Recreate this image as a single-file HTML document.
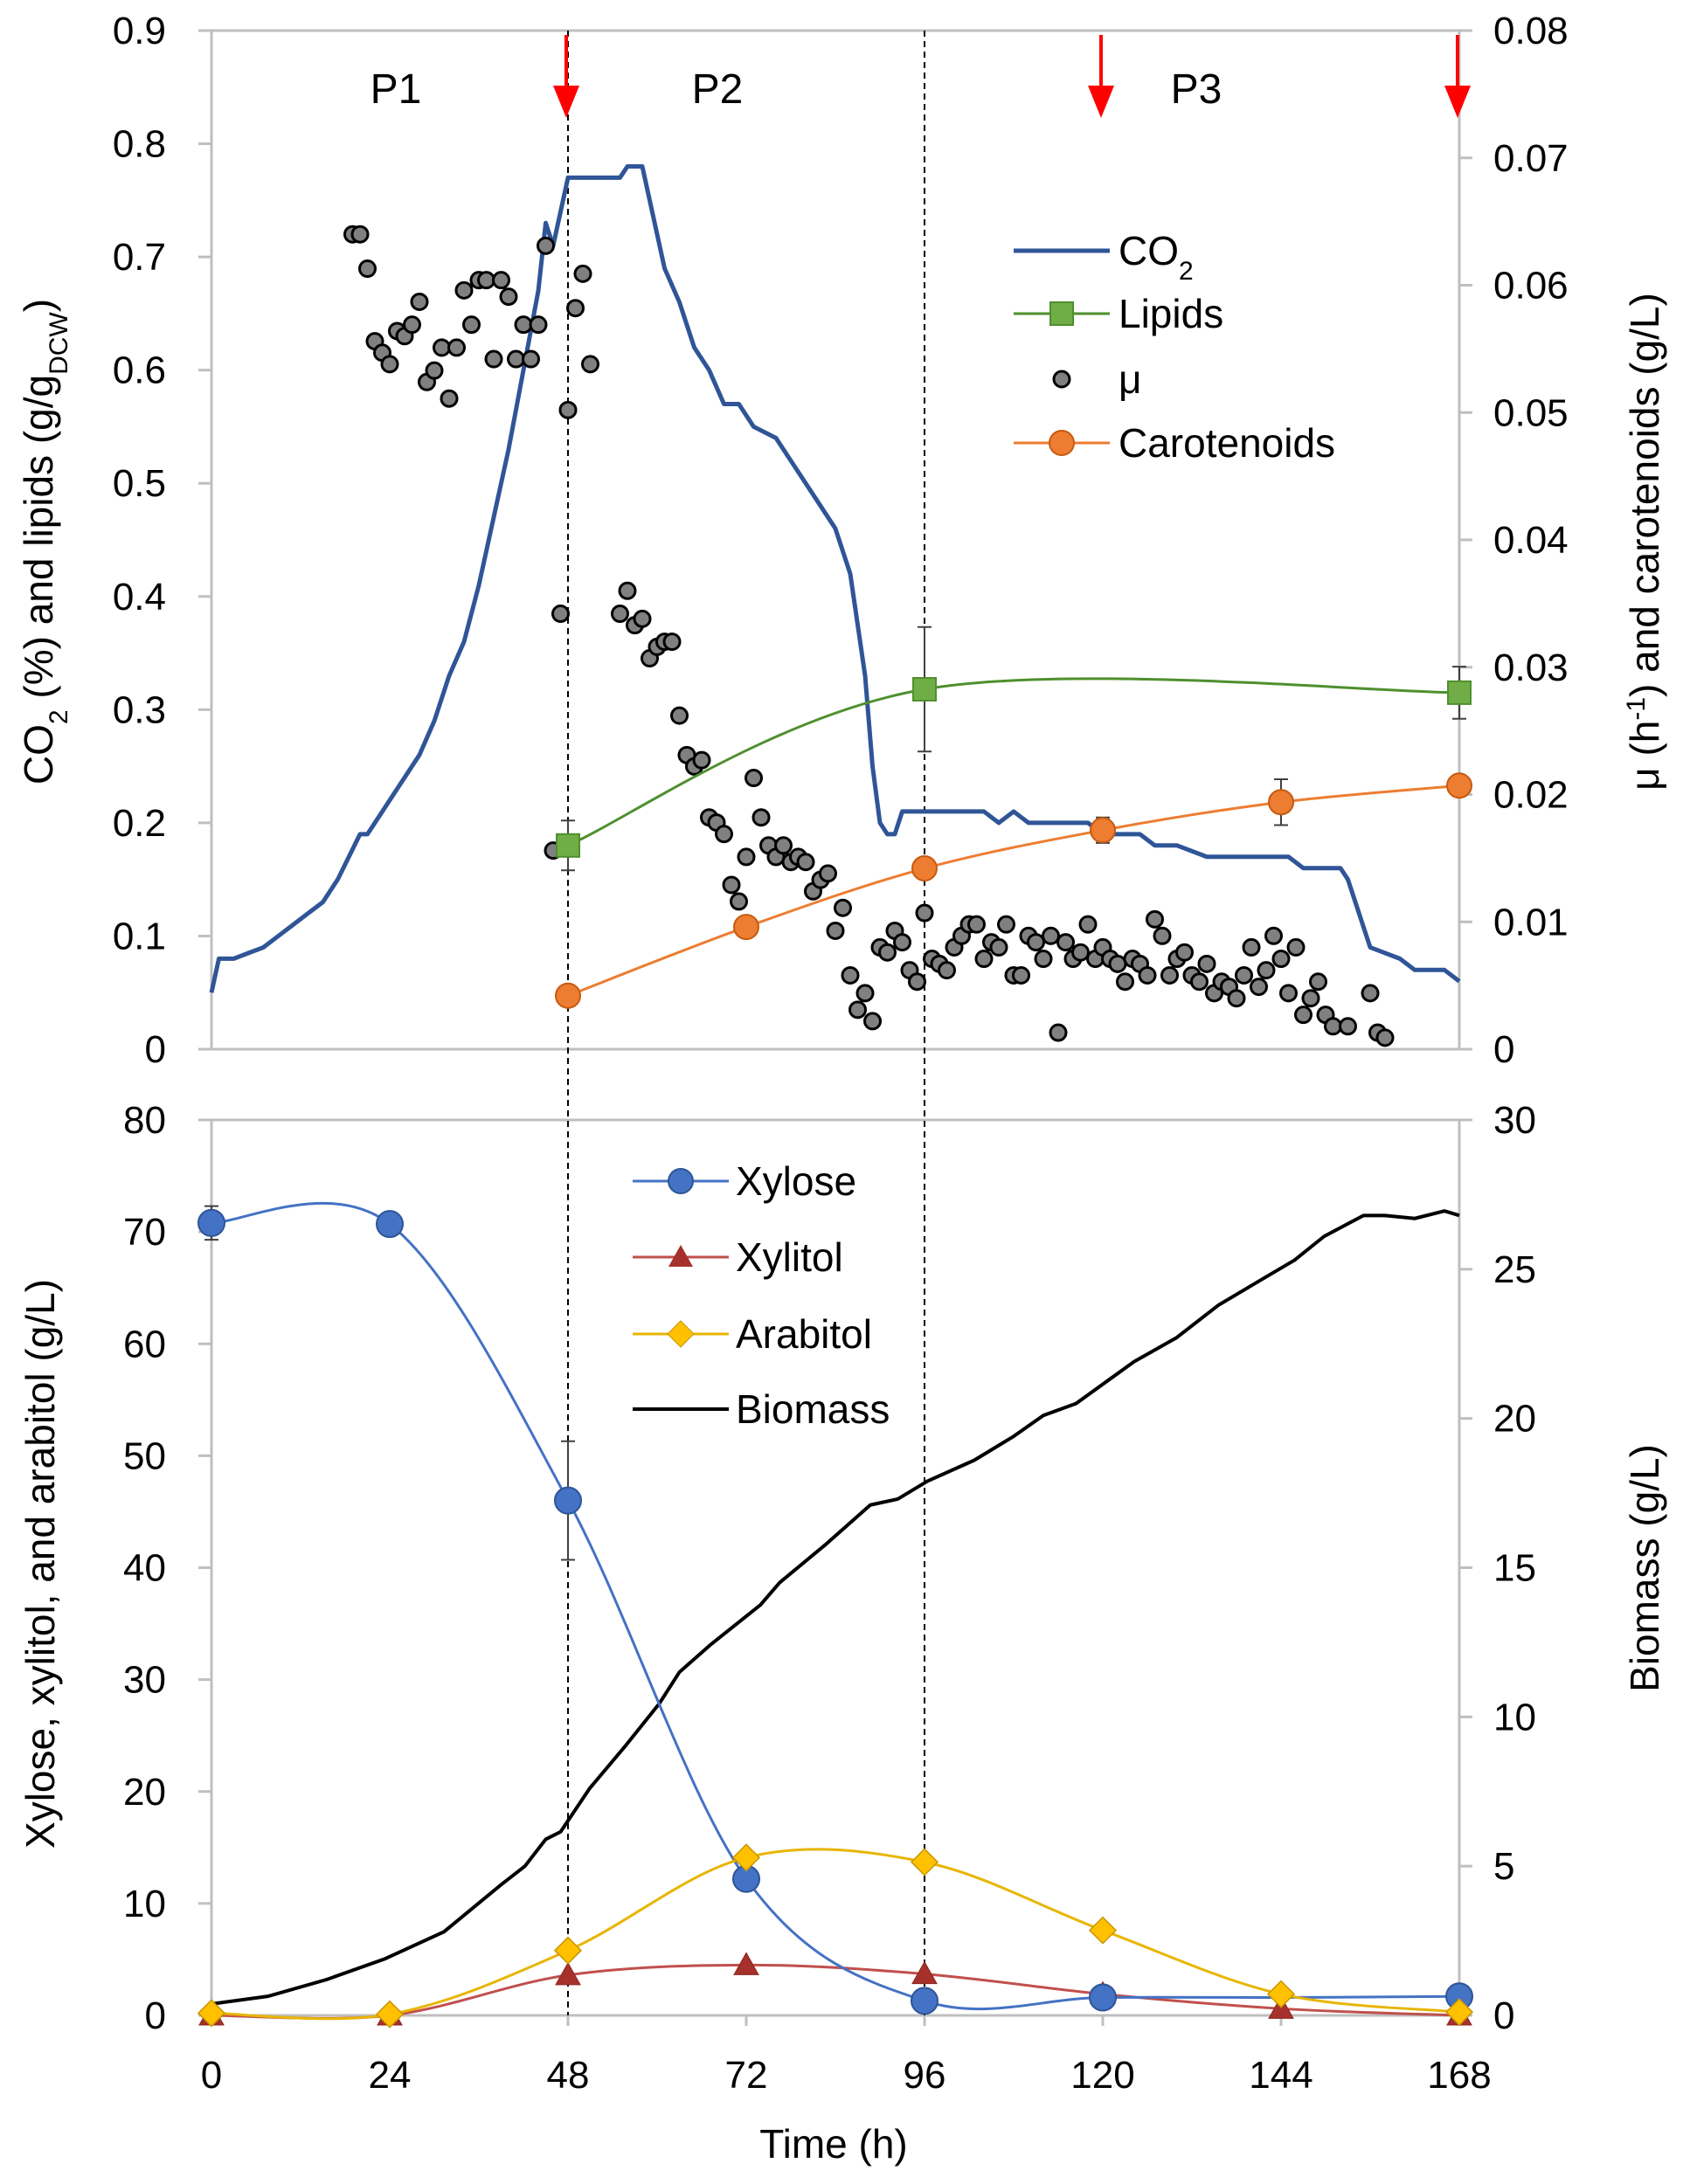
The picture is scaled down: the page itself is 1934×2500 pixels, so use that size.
<!DOCTYPE html>
<html><head><meta charset="utf-8"><style>
html,body{margin:0;padding:0;background:#fff;}
svg{display:block;font-family:"Liberation Sans",Arial,sans-serif;}
</style></head><body>
<svg id="chart" width="1934" height="2500" viewBox="0 0 1934 2500" xmlns="http://www.w3.org/2000/svg"></svg>
<script>
// ---------- DATA ----------
const timeTicks = [0,24,48,72,96,120,144,168];
const topLeftTicks = [0,0.1,0.2,0.3,0.4,0.5,0.6,0.7,0.8,0.9];
const topRightTicks = [0,0.01,0.02,0.03,0.04,0.05,0.06,0.07,0.08];
const botLeftTicks = [0,10,20,30,40,50,60,70,80];
const botRightTicks = [0,5,10,15,20,25,30];

const co2T = [0,1,3,5,7,9,11,13,15,17,20,21,25,28,30,32,34,36,38,40,42,44,45,46,47,48,55,56,58,59,61,63,65,67,69,71,73,76,78,81,84,86,88,89,90,91,92,93,104,106,108,110,118,120,125,127,130,134,138,145,147,152,153,154,156,160,162,166,168];
const co2V = [0.05,0.08,0.08,0.085,0.09,0.1,0.11,0.12,0.13,0.15,0.19,0.19,0.23,0.26,0.29,0.33,0.36,0.41,0.47,0.53,0.6,0.67,0.73,0.71,0.74,0.77,0.77,0.78,0.78,0.75,0.69,0.66,0.62,0.6,0.57,0.57,0.55,0.54,0.52,0.49,0.46,0.42,0.33,0.25,0.2,0.19,0.19,0.21,0.21,0.2,0.21,0.2,0.2,0.19,0.19,0.18,0.18,0.17,0.17,0.17,0.16,0.16,0.15,0.13,0.09,0.08,0.07,0.07,0.06];

const muT = [19,20,21,22,23,24,25,26,27,28,29,30,31,32,33,34,35,36,37,38,39,40,41,42,43,44,45,46,47,48,49,50,51,55,56,57,58,59,60,61,62,63,64,65,66,67,68,69,70,71,72,73,74,75,76,77,78,79,80,81,82,83,84,85,86,87,88,89,90,91,92,93,94,95,96,97,98,99,100,101,102,103,104,105,106,107,108,109,110,111,112,113,114,115,116,117,118,119,120,121,122,123,124,125,126,127,128,129,130,131,132,133,134,135,136,137,138,139,140,141,142,143,144,145,146,147,148,149,150,151,153,156,157,158];
const muV = [0.064,0.064,0.0613,0.0556,0.0547,0.0538,0.0564,0.056,0.0569,0.0587,0.0524,0.0533,0.0551,0.0511,0.0551,0.0596,0.0569,0.0604,0.0604,0.0542,0.0604,0.0591,0.0542,0.0569,0.0542,0.0569,0.0631,0.0156,0.0342,0.0502,0.0582,0.0609,0.0538,0.0342,0.036,0.0333,0.0338,0.0307,0.0316,0.032,0.032,0.0262,0.0231,0.0222,0.0227,0.0182,0.0178,0.0169,0.0129,0.0116,0.0151,0.0213,0.0182,0.016,0.0151,0.016,0.0147,0.0151,0.0147,0.0124,0.0133,0.0138,0.0093,0.0111,0.0058,0.0031,0.0044,0.0022,0.008,0.0076,0.0093,0.0084,0.0062,0.0053,0.0107,0.0071,0.0067,0.0062,0.008,0.0089,0.0098,0.0098,0.0071,0.0084,0.008,0.0098,0.0058,0.0058,0.0089,0.0084,0.0071,0.0089,0.0013,0.0084,0.0071,0.0076,0.0098,0.0071,0.008,0.0071,0.0067,0.0053,0.0071,0.0067,0.0058,0.0102,0.0089,0.0058,0.0071,0.0076,0.0058,0.0053,0.0067,0.0044,0.0053,0.0049,0.004,0.0058,0.008,0.0049,0.0062,0.0089,0.0071,0.0044,0.008,0.0027,0.004,0.0053,0.0027,0.0018,0.0018,0.0044,0.0013,0.0009];

const lipT = [48,96,168];
const lipV = [0.18,0.318,0.315];
const lipE = [0.022,0.055,0.023];
const carT = [48,72,96,120,144,168];
const carV = [0.0042,0.0096,0.0142,0.0172,0.0194,0.0207];
const carE = [0,0,0,0.001,0.0018,0];

const sampT = [0,24,48,72,96,120,144,168];
const xylose = [70.8,70.7,46,12.2,1.3,1.6,1.6,1.7];
const xyloseE = [1.5,0,5.3,0,0,0,0,0];
const xylitol = [0,0,3.6,4.5,3.7,1.9,0.6,0];
const arabitol = [0.2,0.1,5.8,14.1,13.7,7.6,1.9,0.3];

const bioT = [0,0.5,7.6,15.5,23.4,31.3,39.1,42.2,45,47,50.9,55.8,60.3,63,67.1,73.9,76.5,82.8,88.7,92.4,96.4,102.7,108,112,116.4,124.2,129.9,135.6,141.7,145.8,149.8,155.1,158,162,166,168];
const bioV = [0.2,0.4,0.64,1.2,1.9,2.8,4.4,5.0,5.9,6.15,7.6,9.05,10.45,11.5,12.4,13.75,14.5,15.8,17.1,17.3,17.9,18.6,19.4,20.1,20.5,21.9,22.7,23.8,24.7,25.3,26.1,26.8,26.8,26.7,26.95,26.8];

// ---------- SCALES ----------
const X0=242, X1=1670;
const x = t => X0 + (t/168)*(X1-X0);
const TY0=1201, TY1=35;
const yTL = v => TY0 - (v/0.9)*(TY0-TY1);
const yTR = v => TY0 - (v/0.08)*(TY0-TY1);
const BY0=2307, BY1=1282;
const yBL = v => BY0 - (v/80)*(BY0-BY1);
const yBR = v => BY0 - (v/30)*(BY0-BY1);

const svg = document.getElementById('chart');
const NS='http://www.w3.org/2000/svg';
function mk(tag, attrs, parent){
  const e=document.createElementNS(NS,tag);
  for(const k in attrs) e.setAttribute(k,attrs[k]);
  (parent||svg).appendChild(e); return e;
}
function smooth(pts){
  let d='M'+pts[0][0]+','+pts[0][1];
  for(let i=0;i<pts.length-1;i++){
    const p0=pts[Math.max(0,i-1)],p1=pts[i],p2=pts[i+1],p3=pts[Math.min(pts.length-1,i+2)];
    const c1=[p1[0]+(p2[0]-p0[0])/6,p1[1]+(p2[1]-p0[1])/6];
    const c2=[p2[0]-(p3[0]-p1[0])/6,p2[1]-(p3[1]-p1[1])/6];
    d+=' C'+c1[0]+','+c1[1]+' '+c2[0]+','+c2[1]+' '+p2[0]+','+p2[1];
  }
  return d;
}
function poly(pts){return 'M'+pts.map(p=>p[0]+','+p[1]).join(' L');}
function txt(s,x_,y_,attrs){const e=mk('text',Object.assign({x:x_,y:y_,'font-size':44,fill:'#000'},attrs||{}));e.textContent=s;return e;}

// ---------- AXES ----------
const gray='#BFBFBF';
function frame(yTop,yBot,name){
  const g=mk('g',{});
  
  
  mk('line',{x1:X0,y1:yTop,x2:X0,y2:yBot,stroke:gray,'stroke-width':3},g);
  mk('line',{x1:X1,y1:yTop,x2:X1,y2:yBot,stroke:gray,'stroke-width':3},g);
  mk('line',{x1:X0,y1:yBot,x2:X1,y2:yBot,stroke:gray,'stroke-width':3},g);
  mk('line',{x1:X0,y1:yTop,x2:X1,y2:yTop,stroke:gray,'stroke-width':3},g);
  return g;
}
frame(TY1,TY0,'top-plot-frame');
frame(BY1,BY0,'bottom-plot-frame');

const gtl=mk('g',{});


topLeftTicks.forEach(v=>{const y=yTL(v);mk('line',{x1:X0-15,y1:y,x2:X0,y2:y,stroke:gray,'stroke-width':3},gtl);txt(String(v),190,y+15,{'text-anchor':'end'});});
const gtr=mk('g',{});


topRightTicks.forEach(v=>{const y=yTR(v);mk('line',{x1:X1,y1:y,x2:X1+15,y2:y,stroke:gray,'stroke-width':3},gtr);txt(v===0?'0':v.toFixed(2),1709,y+15);});
const gbl=mk('g',{});


botLeftTicks.forEach(v=>{const y=yBL(v);mk('line',{x1:X0-15,y1:y,x2:X0,y2:y,stroke:gray,'stroke-width':3},gbl);txt(String(v),190,y+15,{'text-anchor':'end'});});
const gbr=mk('g',{});


botRightTicks.forEach(v=>{const y=yBR(v);mk('line',{x1:X1,y1:y,x2:X1+15,y2:y,stroke:gray,'stroke-width':3},gbr);txt(String(v),1709,y+15);});
const gx=mk('g',{});


timeTicks.forEach(t=>{mk('line',{x1:x(t),y1:BY0,x2:x(t),y2:BY0+12,stroke:gray,'stroke-width':3},gx);txt(String(t),x(t),2390,{'text-anchor':'middle'});});

// axis titles
let t1=txt('',0,0,{transform:'translate(60,620) rotate(-90)','text-anchor':'middle','font-size':46});

t1.innerHTML='CO<tspan baseline-shift="sub" font-size="30">2</tspan> (%) and lipids (g/g<tspan baseline-shift="sub" font-size="30">DCW</tspan>)';
let t2=txt('',0,0,{transform:'translate(1898,620) rotate(-90)','text-anchor':'middle','font-size':46});

t2.innerHTML='μ (h<tspan baseline-shift="super" font-size="30">-1</tspan>) and carotenoids (g/L)';
let t3=txt('Xylose, xylitol, and arabitol (g/L)',0,0,{transform:'translate(62,1790) rotate(-90)','text-anchor':'middle','font-size':46});

let t4=txt('Biomass (g/L)',0,0,{transform:'translate(1898,1795) rotate(-90)','text-anchor':'middle','font-size':46});

let t5=txt('Time (h)',954,2470,{'text-anchor':'middle','font-size':46});


// dashed phase lines
[48,96].forEach(t=>{const l=mk('line',{x1:x(t),y1:TY1,x2:x(t),y2:BY0,stroke:'#000','stroke-width':2,'stroke-dasharray':'7,5'});

});
[['P1',453],['P2',821],['P3',1369]].forEach(p=>{const e=txt(p[0],p[1],118,{'text-anchor':'middle','font-size':48});

});
[48,120,168].forEach(t=>{const g=mk('g',{});


mk('line',{x1:x(t)-2,y1:40,x2:x(t)-2,y2:105,stroke:'#FF0000','stroke-width':4},g);
mk('polygon',{points:(x(t)-17)+',98 '+(x(t)+13)+',98 '+(x(t)-2)+',135',fill:'#FF0000'},g);});

// ---------- TOP SERIES ----------
const co2=mk('path',{d:poly(co2T.map((t,i)=>[x(t),yTL(co2V[i])])),fill:'none',stroke:'#2F5597','stroke-width':5,'stroke-linejoin':'round'});



muT.forEach((t,i)=>{const c=mk('circle',{cx:x(t),cy:yTR(muV[i]),r:9,fill:'#808080',stroke:'#000','stroke-width':3});

});

const lipLine=mk('path',{d:smooth(lipT.map((t,i)=>[x(t),yTL(lipV[i])])),fill:'none',stroke:'#4E8F2E','stroke-width':3});


lipT.forEach((t,i)=>{const X=x(t),Y=yTL(lipV[i]),e=(TY0-TY1)*lipE[i]/0.9;
const eb=mk('path',{d:`M${X},${Y-e}L${X},${Y+e}M${X-8},${Y-e}L${X+8},${Y-e}M${X-8},${Y+e}L${X+8},${Y+e}`,stroke:'#404040','stroke-width':2,fill:'none'});


const m=mk('rect',{x:X-13,y:Y-13,width:26,height:26,fill:'#70AD47',stroke:'#4E8F2E','stroke-width':2});

});

const carLine=mk('path',{d:smooth(carT.map((t,i)=>[x(t),yTR(carV[i])])),fill:'none',stroke:'#ED7D31','stroke-width':3});


carT.forEach((t,i)=>{const X=x(t),Y=yTR(carV[i]),e=(TY0-TY1)*carE[i]/0.08;
if(e>0){const eb=mk('path',{d:`M${X},${Y-e}L${X},${Y+e}M${X-8},${Y-e}L${X+8},${Y-e}M${X-8},${Y+e}L${X+8},${Y+e}`,stroke:'#404040','stroke-width':2,fill:'none'});

}
const m=mk('circle',{cx:X,cy:Y,r:14,fill:'#ED7D31',stroke:'#C55A11','stroke-width':2});

});

// ---------- BOTTOM SERIES ----------
const bio=mk('path',{d:poly(bioT.map((t,i)=>[x(t),yBR(bioV[i])])),fill:'none',stroke:'#000','stroke-width':4,'stroke-linejoin':'round'});



function series(vals,color,name){
  const p=mk('path',{d:smooth(sampT.map((t,i)=>[x(t),yBL(vals[i])])),fill:'none',stroke:color,'stroke-width':3});
  
  
}
series(xylitol,'#C0504D','xylitol');
series(xylose,'#4472C4','xylose');
series(arabitol,'#E8B500','arabitol');
sampT.forEach((t,i)=>{const X=x(t),Y=yBL(xylitol[i]);
const m=mk('polygon',{points:`${X-14},${Y+11} ${X+14},${Y+11} ${X},${Y-14}`,fill:'#A5302C',stroke:'#8B2520','stroke-width':1});

});
sampT.forEach((t,i)=>{if(t===144)return;const X=x(t),Y=yBL(xylose[i]),e=(BY0-BY1)*xyloseE[i]/80;
if(e>0){const eb=mk('path',{d:`M${X},${Y-e}L${X},${Y+e}M${X-8},${Y-e}L${X+8},${Y-e}M${X-8},${Y+e}L${X+8},${Y+e}`,stroke:'#404040','stroke-width':2,fill:'none'});

}
const m=mk('circle',{cx:X,cy:Y,r:15,fill:'#4472C4',stroke:'#2F5597','stroke-width':2});

});
sampT.forEach((t,i)=>{const X=x(t),Y=yBL(arabitol[i]);
const m=mk('polygon',{points:`${X-15},${Y} ${X},${Y-15} ${X+15},${Y} ${X},${Y+15}`,fill:'#FFC000',stroke:'#C89600','stroke-width':1.5});

});

// ---------- LEGENDS ----------
function legend(items,lx0,lx1,tx,name){
  const g=mk('g',{});
  
  
  items.forEach(it=>{
    const e=mk('g',{},g);
    
    
    const cx=(lx0+lx1)/2;
    if(it.line) mk('line',{x1:lx0,y1:it.y,x2:lx1,y2:it.y,stroke:it.color,'stroke-width':it.w||3},e);
    if(it.mark==='square') mk('rect',{x:cx-13,y:it.y-13,width:26,height:26,fill:'#70AD47',stroke:'#4E8F2E','stroke-width':2},e);
    if(it.mark==='circle') mk('circle',{cx:cx,cy:it.y,r:it.r||14,fill:it.fill,stroke:it.stroke,'stroke-width':it.sw||2},e);
    if(it.mark==='tri') mk('polygon',{points:`${cx-14},${it.y+11} ${cx+14},${it.y+11} ${cx},${it.y-14}`,fill:'#A5302C'},e);
    if(it.mark==='diamond') mk('polygon',{points:`${cx-15},${it.y} ${cx},${it.y-15} ${cx+15},${it.y} ${cx},${it.y+15}`,fill:'#FFC000',stroke:'#C89600'},e);
    const t=txt('',tx,it.y+16,{'font-size':46},);
    e.appendChild(t);
    t.innerHTML=it.label;
  });
}
legend([
  {key:'co2',y:287,line:true,color:'#2F5597',w:5,label:'CO<tspan baseline-shift="sub" font-size="30">2</tspan>'},
  {key:'lipids',y:359,line:true,color:'#4E8F2E',mark:'square',label:'Lipids'},
  {key:'mu',y:434,mark:'circle',r:9,fill:'#808080',stroke:'#000',sw:3,label:'μ'},
  {key:'carotenoids',y:507,line:true,color:'#ED7D31',mark:'circle',fill:'#ED7D31',stroke:'#C55A11',label:'Carotenoids'}
],1160,1270,1280,'top-legend');
legend([
  {key:'xylose',y:1352,line:true,color:'#4472C4',mark:'circle',fill:'#4472C4',stroke:'#2F5597',label:'Xylose'},
  {key:'xylitol',y:1439,line:true,color:'#C0504D',mark:'tri',label:'Xylitol'},
  {key:'arabitol',y:1527,line:true,color:'#E8B500',mark:'diamond',label:'Arabitol'},
  {key:'biomass',y:1613,line:true,color:'#000',w:4,label:'Biomass'}
],724,834,842,'bottom-legend');
</script>
</body></html>
